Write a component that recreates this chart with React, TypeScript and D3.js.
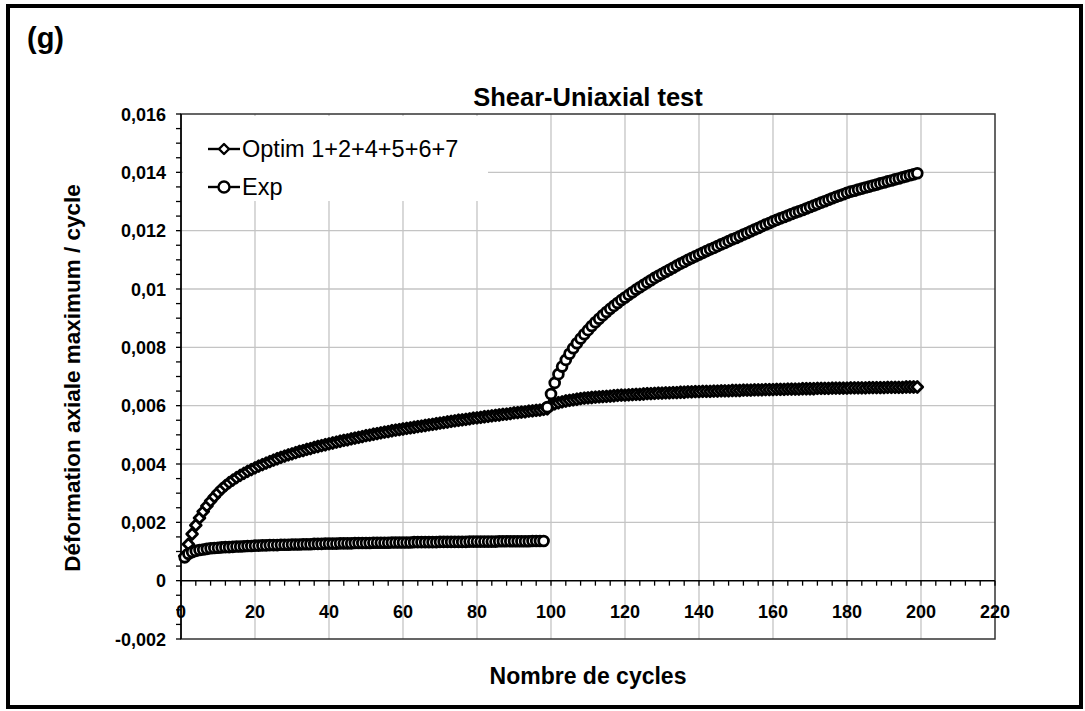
import React from "react";
import * as d3 from "d3";

const W = 1085;
const H = 711;

const chartTitle = "Shear-Uniaxial test";
const panelLabel = "(g)";
const xAxisTitle = "Nombre de cycles";
const yAxisTitle = "Déformation axiale maximum / cycle";
const seriesNames = ["Optim 1+2+4+5+6+7", "Exp"];

const xTickValues = [0, 20, 40, 60, 80, 100, 120, 140, 160, 180, 200, 220];
const yTickValues = [-0.002, 0, 0.002, 0.004, 0.006, 0.008, 0.01, 0.012, 0.014, 0.016];

// Optim: cycles 1..199
const optimStartCycle = 1;
const optimValues = [
  0.00085, 0.00125, 0.0016, 0.0019, 0.00215, 0.00237, 0.00256, 0.00273, 0.00288, 0.00302,
  0.00315, 0.00326, 0.00336, 0.00345, 0.00353, 0.00361, 0.00368, 0.00375, 0.00381, 0.00387,
  0.00393, 0.00398, 0.00403, 0.00408, 0.00413, 0.00418, 0.00423, 0.00427, 0.00431, 0.00435,
  0.00439, 0.00443, 0.00446, 0.0045, 0.00453, 0.00457, 0.0046, 0.00463, 0.00466, 0.00469,
  0.00472, 0.00475, 0.00478, 0.00481, 0.00483, 0.00486, 0.00489, 0.00491, 0.00494, 0.00497,
  0.00499, 0.00502, 0.00504, 0.00507, 0.00509, 0.00511, 0.00514, 0.00516, 0.00518, 0.0052,
  0.00522, 0.00524, 0.00526, 0.00528, 0.0053, 0.00532, 0.00534, 0.00536, 0.00538, 0.0054,
  0.00542, 0.00544, 0.00546, 0.00548, 0.0055, 0.00551, 0.00553, 0.00555, 0.00557, 0.00558,
  0.0056, 0.00562, 0.00563, 0.00565, 0.00567, 0.00568, 0.0057, 0.00571, 0.00573, 0.00575,
  0.00576, 0.00578, 0.00579, 0.00581, 0.00582, 0.00584, 0.00585, 0.00587, 0.00589,
  0.006, 0.00606, 0.0061, 0.00613, 0.00616, 0.00618, 0.0062, 0.00622, 0.00624, 0.00626,
  0.00627, 0.00628, 0.00629, 0.0063, 0.00631, 0.00632, 0.00633, 0.00634, 0.00635, 0.00636,
  0.00636, 0.00637, 0.00638, 0.00639, 0.00639, 0.0064, 0.00641, 0.00641, 0.00642, 0.00643,
  0.00643, 0.00644, 0.00644, 0.00645, 0.00645, 0.00646, 0.00646, 0.00647, 0.00647, 0.00648,
  0.00648, 0.00649, 0.00649, 0.00649, 0.0065, 0.0065, 0.00651, 0.00651, 0.00651, 0.00652,
  0.00652, 0.00652, 0.00653, 0.00653, 0.00653, 0.00654, 0.00654, 0.00654, 0.00655, 0.00655,
  0.00655, 0.00656, 0.00656, 0.00656, 0.00657, 0.00657, 0.00657, 0.00657, 0.00658, 0.00658,
  0.00658, 0.00658, 0.00659, 0.00659, 0.00659, 0.00659, 0.0066, 0.0066, 0.0066, 0.0066,
  0.0066, 0.00661, 0.00661, 0.00661, 0.00661, 0.00661, 0.00662, 0.00662, 0.00662, 0.00662,
  0.00662, 0.00663, 0.00663, 0.00663, 0.00663, 0.00663, 0.00664, 0.00664, 0.00664, 0.00664,
];

// Exp, first part: cycles 1..98
const expAStartCycle = 1;
const expAValues = [
  0.0008, 0.00092, 0.00098, 0.00102, 0.00105, 0.00107, 0.00109, 0.00111, 0.00112, 0.00113,
  0.00114, 0.00115, 0.00115, 0.00116, 0.00117, 0.00117, 0.00118, 0.00119, 0.00119, 0.0012,
  0.0012, 0.00121, 0.00121, 0.00122, 0.00122, 0.00122, 0.00123, 0.00123, 0.00123, 0.00124,
  0.00124, 0.00124, 0.00125, 0.00125, 0.00125, 0.00126, 0.00126, 0.00126, 0.00127, 0.00127,
  0.00127, 0.00127, 0.00128, 0.00128, 0.00128, 0.00128, 0.00129, 0.00129, 0.00129, 0.00129,
  0.00129, 0.0013, 0.0013, 0.0013, 0.0013, 0.0013, 0.00131, 0.00131, 0.00131, 0.00131,
  0.00131, 0.00131, 0.00132, 0.00132, 0.00132, 0.00132, 0.00132, 0.00132, 0.00132, 0.00133,
  0.00133, 0.00133, 0.00133, 0.00133, 0.00133, 0.00133, 0.00133, 0.00134, 0.00134, 0.00134,
  0.00134, 0.00134, 0.00134, 0.00134, 0.00134, 0.00135, 0.00135, 0.00135, 0.00135, 0.00135,
  0.00135, 0.00135, 0.00135, 0.00135, 0.00136, 0.00136, 0.00136, 0.00136,
];

// Exp, second part: cycles 99..199
const expBStartCycle = 99;
const expBValues = [
  0.00595, 0.0064, 0.00678, 0.00708, 0.00734, 0.00757, 0.00778, 0.00797, 0.00814, 0.0083,
  0.00845, 0.00859, 0.00873, 0.00886, 0.00898, 0.0091, 0.00921, 0.00932, 0.00942, 0.00952,
  0.00962, 0.00971, 0.0098, 0.00989, 0.00998, 0.01006, 0.01014, 0.01022, 0.0103, 0.01038,
  0.01045, 0.01052, 0.01059, 0.01066, 0.01073, 0.0108, 0.01087, 0.01093, 0.011, 0.01106,
  0.01112, 0.01118, 0.01124, 0.0113, 0.01136, 0.01141, 0.01147, 0.01153, 0.01158, 0.01164,
  0.0117, 0.01175, 0.01181, 0.01187, 0.01192, 0.01198, 0.01204, 0.01209, 0.01215, 0.01221,
  0.01226, 0.01232, 0.01237, 0.01242, 0.01247, 0.01252, 0.01257, 0.01262, 0.01266, 0.01271,
  0.01276, 0.01281, 0.01286, 0.01291, 0.01296, 0.01301, 0.01306, 0.01311, 0.01316, 0.0132,
  0.01325, 0.0133, 0.01334, 0.01337, 0.01341, 0.01344, 0.01348, 0.01351, 0.01355, 0.01358,
  0.01362, 0.01365, 0.01369, 0.01372, 0.01376, 0.01379, 0.01383, 0.01386, 0.0139, 0.01393,
  0.01397,
];

const PLOT = { left: 181, right: 995, top: 114, bottom: 639 };
const FONT = "'Liberation Sans', Arial, Helvetica, sans-serif";

type Pt = [number, number];
const toPoints = (start: number, vals: number[]): Pt[] => vals.map((v, i) => [start + i, v]);

const fmtY = (v: number) => {
  const r = Math.round(v * 1000) / 1000;
  return String(r).replace(".", ",");
};

function Diamond({ cx, cy, r, sw = 2.8 }: { cx: number; cy: number; r: number; sw?: number }) {
  return (
    <path
      d={`M${cx},${cy - r}L${cx + r},${cy}L${cx},${cy + r}L${cx - r},${cy}Z`}
      fill="#fff"
      stroke="#000"
      strokeWidth={sw}
      strokeLinejoin="round"
    />
  );
}

function Circle({ cx, cy, r, sw = 2.8 }: { cx: number; cy: number; r: number; sw?: number }) {
  return <circle cx={cx} cy={cy} r={r} fill="#fff" stroke="#000" strokeWidth={sw} />;
}

export default function App() {
  const x = d3.scaleLinear().domain([0, 220]).range([PLOT.left, PLOT.right]);
  const y = d3.scaleLinear().domain([-0.002, 0.016]).range([PLOT.bottom, PLOT.top]);
  const line = d3
    .line<Pt>()
    .x((d) => x(d[0]))
    .y((d) => y(d[1]));

  const optim = toPoints(optimStartCycle, optimValues);
  const expA = toPoints(expAStartCycle, expAValues);
  const expB = toPoints(expBStartCycle, expBValues);

  const xMinor = d3.range(0, 220.001, 4);
  const yMinor = d3.range(-0.002, 0.01600001, 0.0005);
  const y0 = y(0);

  const legendX = 224;
  const legendRows = [149, 187];

  return (
    <svg
      width={W}
      height={H}
      viewBox={`0 0 ${W} ${H}`}
      style={{ position: "absolute", left: 0, top: 0, background: "#fff" }}
      fontFamily={FONT}
    >
      <rect x={0} y={0} width={W} height={H} fill="#fff" />
      <rect x={8} y={6} width={1073} height={701} fill="none" stroke="#000" strokeWidth={4} />

      <text x={27} y={48} fontSize={29} fontWeight="bold">
        {panelLabel}
      </text>

      {/* grid */}
      {xTickValues
        .filter((t) => t > 0 && t < 220)
        .map((t) => (
          <line key={"gx" + t} x1={x(t)} x2={x(t)} y1={PLOT.top} y2={PLOT.bottom} stroke="#c4c4c4" strokeWidth={1.3} />
        ))}
      {yTickValues
        .filter((t) => t > -0.002 && t < 0.016 && Math.abs(t) > 1e-9)
        .map((t) => (
          <line key={"gy" + t} x1={PLOT.left} x2={PLOT.right} y1={y(t)} y2={y(t)} stroke="#c4c4c4" strokeWidth={1.3} />
        ))}

      {/* legend background */}
      <rect x={183} y={116} width={305} height={85} fill="#fff" />

      {/* plot border */}
      <rect
        x={PLOT.left}
        y={PLOT.top}
        width={PLOT.right - PLOT.left}
        height={PLOT.bottom - PLOT.top}
        fill="none"
        stroke="#333"
        strokeWidth={1.5}
      />

      {/* x axis at y=0 */}
      <line x1={PLOT.left} x2={PLOT.right} y1={y0} y2={y0} stroke="#000" strokeWidth={1.5} />
      {xMinor.map((t) => (
        <line key={"xm" + t} x1={x(t)} x2={x(t)} y1={y0} y2={y0 + 5} stroke="#000" strokeWidth={1.3} />
      ))}
      {xTickValues.map((t) => (
        <text key={"xl" + t} x={x(t)} y={618} textAnchor="middle" fontSize={18} fontWeight="bold">
          {t}
        </text>
      ))}

      {/* y axis */}
      <line x1={PLOT.left} x2={PLOT.left} y1={PLOT.top} y2={PLOT.bottom} stroke="#000" strokeWidth={1.5} />
      {yMinor.map((t, i) => (
        <line key={"ym" + i} x1={PLOT.left - 5} x2={PLOT.left} y1={y(t)} y2={y(t)} stroke="#000" strokeWidth={1.3} />
      ))}
      {yTickValues.map((t) => (
        <text key={"yl" + t} x={166} y={y(t) + 6.5} textAnchor="end" fontSize={18} fontWeight="bold">
          {fmtY(t)}
        </text>
      ))}

      {/* series: Optim */}
      <path d={line(optim) || ""} fill="none" stroke="#000" strokeWidth={2.4} />
      {optim.map((d, i) => (
        <Diamond key={"o" + i} cx={x(d[0])} cy={y(d[1])} r={5.4} />
      ))}

      {/* series: Exp */}
      <path d={line(expA) || ""} fill="none" stroke="#000" strokeWidth={2.4} />
      <path d={line(expB) || ""} fill="none" stroke="#000" strokeWidth={2.4} />
      {expA.map((d, i) => (
        <Circle key={"ea" + i} cx={x(d[0])} cy={y(d[1])} r={4.9} />
      ))}
      {expB.map((d, i) => (
        <Circle key={"eb" + i} cx={x(d[0])} cy={y(d[1])} r={4.9} />
      ))}

      {/* legend */}
      <line x1={legendX - 16} x2={legendX + 16} y1={legendRows[0]} y2={legendRows[0]} stroke="#000" strokeWidth={2.4} />
      <Diamond cx={legendX} cy={legendRows[0]} r={5} sw={2.4} />
      <text x={242} y={legendRows[0] + 8} fontSize={23.5}>
        {seriesNames[0]}
      </text>
      <line x1={legendX - 16} x2={legendX + 16} y1={legendRows[1]} y2={legendRows[1]} stroke="#000" strokeWidth={2.4} />
      <Circle cx={legendX} cy={legendRows[1]} r={5.5} sw={2.4} />
      <text x={242} y={legendRows[1] + 8} fontSize={23.5}>
        {seriesNames[1]}
      </text>

      {/* titles */}
      <text x={588} y={106} textAnchor="middle" fontSize={25.5} fontWeight="bold">
        {chartTitle}
      </text>
      <text x={588} y={684} textAnchor="middle" fontSize={23} fontWeight="bold">
        {xAxisTitle}
      </text>
      <text transform={`translate(80,378) rotate(-90)`} textAnchor="middle" fontSize={22.5} fontWeight="bold">
        {yAxisTitle}
      </text>
    </svg>
  );
}
